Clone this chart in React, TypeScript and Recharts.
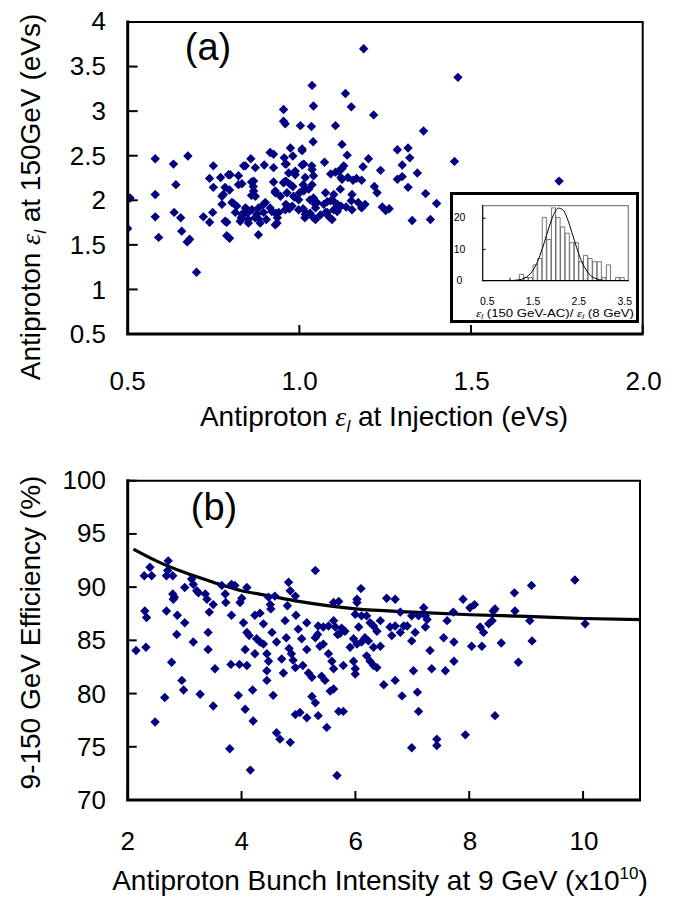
import React from "react";
import { Bar, ComposedChart, Line, Scatter, ScatterChart, XAxis, YAxis } from "recharts";

// Two stacked scatter panels, Excel-style: (a) emittance at 150 GeV vs injection
// with a histogram inset, (b) transfer efficiency vs bunch intensity with a fit line.

const FONT = '"Liberation Sans", Arial, Helvetica, sans-serif';
const NAVY = "#000080";

// panel (a): [emittance at injection, emittance at 150 GeV]
const panelAPoints: [number, number][] = [
  [0.507, 2.02], [0.5, 1.68], [0.58, 2.46], [0.58, 2.06], [0.58, 1.81], [0.59, 1.58],
  [0.633, 2.4], [0.64, 2.17], [0.635, 1.86], [0.654, 1.8], [0.657, 1.65], [0.675, 2.49],
  [0.673, 1.53], [0.68, 1.56], [0.7, 1.19], [0.72, 1.81], [0.738, 1.75], [0.747, 1.86],
  [0.749, 2.38], [0.738, 2.24], [0.749, 2.14], [0.77, 2.25], [0.774, 2.04], [0.774, 1.95],
  [0.788, 1.75], [0.788, 1.6], [0.796, 1.57], [0.783, 2.14], [0.796, 2.11], [0.793, 2.28],
  [0.808, 1.96], [0.813, 1.86], [0.822, 2.27], [0.832, 2.18], [0.837, 2.38], [0.83, 1.8],
  [0.84, 1.85], [0.85, 1.78], [0.845, 1.9], [0.858, 2.46], [0.86, 2.2], [0.865, 2.15],
  [0.86, 2.05], [0.871, 2.36], [0.88, 1.61], [0.87, 1.8], [0.88, 1.79], [0.897, 2.39],
  [0.895, 1.95], [0.903, 1.78], [0.914, 2.53], [0.924, 2.51], [0.924, 2.36], [0.924, 2.2],
  [0.929, 2.08], [0.93, 1.85], [0.935, 1.8], [0.934, 1.74], [0.953, 3.01], [0.953, 2.88],
  [0.958, 2.85], [0.955, 2.47], [0.961, 2.4], [0.955, 2.2], [0.96, 2.21], [0.96, 1.95],
  [0.965, 1.92], [0.97, 1.9], [0.973, 2.58], [0.98, 2.49], [0.987, 2.32], [0.985, 2.03],
  [1.002, 2.83], [1.007, 2.57], [1.007, 2.39], [1.01, 2.17], [1.015, 2.13], [1.012, 2.1],
  [1.01, 1.9], [1.02, 1.85], [1.015, 1.8], [1.036, 3.28], [1.04, 3.05], [1.034, 2.82],
  [1.039, 2.65], [1.035, 2.38], [1.04, 2.27], [1.04, 2.0], [1.045, 1.95], [1.03, 1.85],
  [1.04, 1.8], [1.186, 3.69], [1.46, 3.37], [1.133, 3.19], [1.15, 3.04], [1.215, 2.95],
  [1.104, 2.83], [1.36, 2.77], [1.123, 2.62], [1.284, 2.56], [1.315, 2.58], [1.138, 2.5],
  [1.2, 2.46], [1.32, 2.47], [1.45, 2.43], [1.072, 2.42], [1.184, 2.37], [1.235, 2.33],
  [1.298, 2.39], [1.342, 2.3], [1.09, 2.29], [1.104, 2.31], [1.123, 2.35], [1.12, 2.25],
  [1.14, 2.25], [1.155, 2.22], [1.165, 2.24], [1.18, 2.22], [1.284, 2.23], [1.298, 2.26],
  [1.217, 2.15], [1.225, 2.08], [1.315, 2.14], [1.366, 2.07], [1.398, 1.96], [1.152, 2.06],
  [1.0, 2.08], [1.04, 2.02], [1.08, 1.98], [1.1, 1.98], [1.12, 1.93], [1.15, 1.99],
  [1.17, 1.97], [1.19, 1.95], [1.08, 1.86], [1.06, 1.83], [1.085, 1.81], [1.135, 1.92],
  [1.152, 1.89], [1.18, 1.91], [1.24, 1.92], [1.26, 1.9], [1.25, 1.88], [1.327, 1.77],
  [1.38, 1.78], [1.754, 2.21], [1.007, 2.55], [0.842, 2.38], [0.958, 2.4], [1.012, 2.4],
  [1.036, 2.34], [1.113, 2.32], [1.128, 2.38], [0.798, 2.28], [0.968, 2.3], [0.987, 2.28],
  [1.016, 2.25], [0.866, 2.21], [0.953, 2.19], [0.973, 2.17], [1.026, 2.12], [1.036, 2.17],
  [1.075, 2.08], [1.099, 2.06], [1.118, 2.12], [1.123, 2.23], [0.778, 2.06], [0.822, 2.17],
  [0.866, 2.1], [0.871, 2.04], [0.929, 2.1], [0.944, 2.04], [0.963, 2.08], [0.982, 2.04],
  [0.997, 2.0], [1.03, 2.0], [1.05, 1.97], [1.07, 1.95], [1.09, 1.99], [1.11, 1.95],
  [0.803, 1.97], [0.817, 1.93], [0.842, 1.91], [0.861, 1.89], [0.88, 1.91], [0.9, 1.97],
  [0.914, 1.91], [0.832, 1.84], [0.851, 1.86], [0.876, 1.84], [0.895, 1.86], [0.919, 1.87],
  [0.939, 1.86], [0.958, 1.89], [0.978, 1.93], [0.997, 1.89], [1.016, 1.84], [1.046, 1.91],
  [1.075, 1.86], [1.099, 1.89], [1.113, 1.91], [0.783, 1.76], [0.827, 1.76], [0.851, 1.74],
  [0.885, 1.74], [0.929, 1.72], [1.046, 1.78], [0.98, 2.15], [1.094, 1.78], [1.109, 1.87],
];

// panel (b): [bunch intensity (x1e10), 9-150 GeV efficiency %]
const panelBPoints: [number, number][] = [
  [2.146, 84.0], [2.32, 84.3], [2.29, 91.0], [2.39, 91.8], [2.42, 91.0], [2.3, 87.7],
  [2.33, 87.1], [2.48, 77.3], [2.65, 79.6], [2.68, 91.0], [2.7, 91.5], [2.71, 92.4],
  [2.68, 87.7], [2.77, 82.9], [2.79, 89.3], [2.8, 88.8], [2.82, 89.0], [2.79, 91.0],
  [2.86, 85.5], [2.87, 87.3], [2.95, 81.2], [2.98, 80.3], [3.0, 89.9], [3.0, 86.6],
  [3.12, 90.7], [3.15, 90.2], [3.21, 89.6], [3.24, 89.4], [3.15, 84.8], [3.27, 79.9],
  [3.36, 89.3], [3.39, 88.8], [3.41, 85.7], [3.41, 84.1], [3.43, 87.6], [3.5, 88.3],
  [3.5, 78.8], [3.53, 82.3], [3.65, 90.1], [3.71, 89.3], [3.72, 88.5], [3.79, 74.8],
  [3.82, 87.3], [3.81, 82.7], [3.82, 90.2], [3.88, 90.1], [3.94, 79.8], [3.96, 82.7],
  [4.09, 82.6], [3.97, 88.5], [4.0, 88.9], [4.03, 86.6], [4.06, 84.1], [4.06, 78.5],
  [4.09, 89.9], [4.09, 85.7], [4.13, 85.4], [4.15, 72.8], [4.19, 80.3], [4.2, 77.4],
  [4.23, 87.3], [4.23, 83.7], [4.26, 85.1], [4.32, 84.8], [4.38, 84.6], [4.32, 87.5],
  [4.38, 86.5], [4.44, 83.7], [4.47, 83.0], [4.44, 82.1], [4.44, 81.2], [4.47, 89.0],
  [4.5, 88.3], [4.51, 87.9], [4.53, 85.7], [4.55, 79.8], [4.58, 89.1], [4.61, 84.8],
  [4.61, 76.3], [4.67, 75.7], [4.7, 83.2], [4.73, 81.9], [4.76, 86.8], [4.78, 85.2],
  [4.8, 88.2], [4.82, 90.4], [4.85, 89.6], [4.83, 84.2], [4.87, 83.7], [4.9, 83.1],
  [4.94, 82.4], [4.85, 75.4], [4.94, 89.1], [4.95, 87.3], [4.94, 78.0], [5.02, 78.2],
  [5.14, 77.7], [4.99, 86.0], [5.05, 85.1], [5.07, 82.6], [5.14, 86.6], [5.14, 84.1],
  [5.17, 81.9], [5.23, 81.5], [5.23, 79.7], [5.29, 79.1], [5.29, 91.5], [5.29, 85.2],
  [5.33, 85.5], [5.34, 86.3], [5.43, 86.2], [5.52, 86.3], [5.37, 84.4], [5.43, 84.6],
  [5.34, 77.9], [5.4, 81.6], [5.46, 81.2], [5.49, 76.8], [5.52, 83.7], [5.58, 83.0],
  [5.61, 82.3], [5.55, 80.2], [5.61, 80.4], [5.61, 88.5], [5.61, 86.8], [5.64, 86.2],
  [5.68, 85.5], [5.67, 72.3], [5.7, 78.3], [5.7, 88.6], [5.78, 78.3], [5.78, 82.6],
  [5.75, 86.1], [5.81, 85.8], [5.72, 85.6], [6.09, 89.8], [6.02, 88.8], [6.02, 88.5],
  [5.99, 87.4], [6.05, 86.2], [5.96, 85.1], [5.9, 84.3], [6.02, 84.6], [6.1, 84.8],
  [5.96, 83.0], [5.99, 82.3], [5.99, 81.8], [6.1, 87.25], [6.19, 87.25], [6.25, 86.6],
  [6.31, 86.3], [6.37, 85.8], [6.43, 86.8], [6.16, 85.2], [6.22, 84.9], [6.31, 84.3],
  [6.43, 84.4], [6.19, 83.5], [6.25, 83.0], [6.31, 82.6], [6.37, 82.4], [6.49, 80.8],
  [6.54, 88.9], [6.69, 88.8], [6.6, 86.2], [6.69, 86.3], [6.78, 85.7], [6.84, 86.3],
  [6.9, 86.3], [6.63, 85.4], [6.69, 81.2], [6.78, 87.6], [6.81, 79.75], [6.98, 74.9],
  [6.98, 84.9], [7.01, 82.1], [7.04, 85.7], [6.98, 87.25], [7.1, 87.25], [7.19, 88.0],
  [7.22, 87.25], [7.25, 86.9], [7.22, 86.2], [7.08, 80.1], [7.1, 78.3], [7.3, 84.0],
  [7.33, 82.3], [7.42, 75.7], [7.42, 75.1], [7.57, 82.1], [7.54, 85.2], [7.6, 86.8],
  [7.71, 87.6], [7.72, 84.8], [7.72, 83.0], [7.88, 88.8], [7.92, 76.1], [8.0, 88.0],
  [8.08, 88.3], [8.03, 84.4], [8.18, 86.2], [8.24, 85.7], [8.21, 84.4], [8.33, 86.5],
  [8.39, 86.8], [8.41, 87.7], [8.44, 87.9], [8.44, 77.9], [8.55, 84.7], [8.78, 89.4],
  [8.79, 87.7], [8.85, 82.9], [9.05, 86.8], [9.08, 90.1], [9.09, 84.9], [9.84, 90.6],
  [10.02, 86.5],
];

// fitted curve in (b)
const fitIntensity = [2.1, 2.5, 3, 3.5, 4, 4.5, 5, 5.5, 6, 7, 8, 9, 10, 11];
const fitEfficiency = [93.5, 92.4, 91.3, 90.4, 89.6, 89.1, 88.6, 88.2, 87.9, 87.6, 87.35, 87.2, 87.0, 86.9];

// inset histogram of the emittance ratio
const histBins = [1.25, 1.35, 1.45, 1.55, 1.65, 1.75, 1.85, 1.95, 2.05, 2.15, 2.25, 2.35, 2.45, 2.55, 2.65, 2.75, 2.85, 2.95, 3.05, 3.15, 3.25, 3.35, 3.45];
const histCounts = [2, 1, 1, 5, 7, 20, 13, 23, 20, 17, 15, 12, 12, 6, 8, 7, 6, 6, 1, 5, 0, 1, 1];
const gaussX = [1.05, 1.15, 1.25, 1.35, 1.45, 1.55, 1.65, 1.75, 1.85, 1.95, 2.05, 2.15, 2.25, 2.35, 2.45, 2.55, 2.65, 2.75, 2.85, 2.95, 3.05];
const gaussY = [0.05, 0.2, 0.45, 1.1, 2.4, 4.6, 8.0, 12.3, 17.0, 20.9, 22.9, 22.4, 19.5, 15.1, 10.5, 6.4, 3.6, 1.7, 0.8, 0.3, 0.1];

const aXTicks = [0.5, 1.0, 1.5, 2.0];
const aYTicks = [0.5, 1, 1.5, 2, 2.5, 3, 3.5, 4];
const bXTicks = [2, 4, 6, 8, 10];
const bYTicks = [70, 75, 80, 85, 90, 95, 100];
const histXTicks = [0.5, 1.5, 2.5, 3.5];
const histYTicks = [0, 10, 20];

const rowsA = panelAPoints.map(([x, y]) => ({ x, y }));
const rowsB = panelBPoints.map(([x, y]) => ({ x, y }));
const fitRows = fitIntensity.map((x, i) => ({ x, y: fitEfficiency[i] }));
const histRows = histBins.map((x, i) => ({ x, count: histCounts[i] }));
const gaussRows = gaussX.map((x, i) => ({ x, fit: gaussY[i] }));

// page-pixel plot boxes (must agree with the chart margins below)
const BOX_A = { l: 127.7, r: 642.7, t: 22, b: 334 };
const BOX_B = { l: 127.7, r: 640, t: 480.7, b: 800 };
const BOX_H = { l: 482.7, r: 628.3, t: 205.7, b: 280.7 };

const lin = (d0: number, d1: number, r0: number, r1: number) => (v: number) =>
  r0 + ((v - d0) / (d1 - d0)) * (r1 - r0);

const diamond = (r: number) => (p: any) => {
  const { cx, cy } = p;
  if (cx == null || cy == null) return <g />;
  return (
    <polygon
      points={`${cx},${cy - r} ${cx + r},${cy} ${cx},${cy + r} ${cx - r},${cy}`}
      fill={NAVY}
    />
  );
};

function XTick(p: any) {
  const { x, payload, labelY, fmt, size } = p;
  return (
    <text x={x} y={labelY} textAnchor="middle" fontFamily={FONT} fontSize={size} fill="#000">
      {fmt(payload.value)}
    </text>
  );
}

function YTick(p: any) {
  const { y, payload, labelX, fmt, size, anchor } = p;
  return (
    <text x={labelX} y={y} dy="0.36em" textAnchor={anchor} fontFamily={FONT} fontSize={size} fill="#000">
      {fmt(payload.value)}
    </text>
  );
}

// plot frame with inward tick stubs: left/bottom heavy, top/right lighter
function Frame(p: any) {
  const { box, heavy, light, lightColor, xDom, yDom, xTicks, yTicks, xLen, yLen, tickW } = p;
  const { l, r, t, b } = box;
  const sx = lin(xDom[0], xDom[1], l, r);
  const sy = lin(yDom[0], yDom[1], b, t);
  return (
    <g fill="none">
      <path d={`M${l},${t}H${r}V${b}`} stroke={lightColor} strokeWidth={light} />
      <path d={`M${l},${t - heavy / 2}V${b}H${r + light / 2}`} stroke="#000" strokeWidth={heavy} />
      {xTicks.map((v: number) => (
        <path key={`x${v}`} d={`M${sx(v)},${b}V${b - xLen}`} stroke="#000" strokeWidth={tickW} />
      ))}
      {yTicks.map((v: number) => (
        <path key={`y${v}`} d={`M${l},${sy(v)}H${l + yLen}`} stroke="#000" strokeWidth={tickW} />
      ))}
    </g>
  );
}

function PanelA() {
  return (
    <ScatterChart width={677} height={440} margin={{ top: BOX_A.t - 1, right: 677 - BOX_A.r - 1, bottom: 440 - BOX_A.b - 1, left: BOX_A.l - 1 }}>
      <XAxis
        type="number"
        dataKey="x"
        domain={[0.5, 2]}
        ticks={aXTicks}
        interval={0}
        height={1}
        allowDataOverflow
        axisLine={false}
        tickLine={false}
        tick={(p: any) => <XTick {...p} labelY={390} size={26} fmt={(v: number) => v.toFixed(1)} />}
      />
      <YAxis
        type="number"
        dataKey="y"
        domain={[0.5, 4]}
        ticks={aYTicks}
        interval={0}
        width={1}
        allowDataOverflow
        axisLine={false}
        tickLine={false}
        tick={(p: any) => <YTick {...p} labelX={106} size={26} anchor="end" fmt={(v: number) => String(v)} />}
      />
      <Scatter data={rowsA} fill={NAVY} shape={diamond(4.7)} isAnimationActive={false} />
    </ScatterChart>
  );
}

function Inset() {
  // chart origin sits at page (450, 192)
  return (
    <ComposedChart
      width={189}
      height={131}
      data={histRows}
      margin={{ top: BOX_H.t - 192 - 1, right: 639 - BOX_H.r - 1, bottom: 323 - BOX_H.b - 1, left: BOX_H.l - 450 - 1 }}
      barGap={0}
      barCategoryGap={0}
    >
      <XAxis
        type="number"
        dataKey="x"
        domain={[0.4, 3.6]}
        ticks={histXTicks}
        interval={0}
        height={1}
        allowDataOverflow
        axisLine={false}
        tickLine={false}
        tick={(p: any) => <XTick {...p} labelY={113} size={10.5} fmt={(v: number) => v.toFixed(1)} />}
      />
      <YAxis
        type="number"
        domain={[0, 24]}
        ticks={histYTicks}
        interval={0}
        width={1}
        allowDataOverflow
        axisLine={false}
        tickLine={false}
        tick={(p: any) => <YTick {...p} labelX={9.5} size={10.5} anchor="middle" fmt={(v: number) => String(v)} />}
      />
      <Bar dataKey="count" barSize={4.6} fill="#fff" stroke="#555" strokeWidth={0.8} isAnimationActive={false} />
      <Line data={gaussRows} dataKey="fit" type="monotone" stroke="#000" strokeWidth={1} dot={false} isAnimationActive={false} />
    </ComposedChart>
  );
}

function PanelB() {
  // chart origin sits at page (0, 440)
  return (
    <ComposedChart width={677} height={457} margin={{ top: BOX_B.t - 440 - 1, right: 677 - BOX_B.r - 1, bottom: 897 - BOX_B.b - 1, left: BOX_B.l - 1 }}>
      <XAxis
        type="number"
        dataKey="x"
        domain={[2, 11]}
        ticks={bXTicks}
        interval={0}
        height={1}
        allowDataOverflow
        axisLine={false}
        tickLine={false}
        tick={(p: any) => <XTick {...p} labelY={410} size={26} fmt={(v: number) => String(v)} />}
      />
      <YAxis
        type="number"
        dataKey="y"
        domain={[70, 100]}
        ticks={bYTicks}
        interval={0}
        width={1}
        allowDataOverflow
        axisLine={false}
        tickLine={false}
        tick={(p: any) => <YTick {...p} labelX={106} size={26} anchor="end" fmt={(v: number) => String(v)} />}
      />
      <Scatter data={rowsB} dataKey="y" fill={NAVY} shape={diamond(4.7)} isAnimationActive={false} />
      <Line data={fitRows} dataKey="y" type="monotone" stroke="#000" strokeWidth={3.2} dot={false} isAnimationActive={false} />
    </ComposedChart>
  );
}

export default function App() {
  const sub = { fontSize: 17, fontStyle: "italic" as const };
  return (
    <div style={{ position: "absolute", left: 0, top: 0, width: 677, height: 897, background: "#fff", fontFamily: FONT }}>
      <div style={{ position: "absolute", left: 0, top: 0 }}>
        <PanelA />
      </div>
      <div
        style={{
          position: "absolute",
          left: 450,
          top: 192,
          width: 189,
          height: 131,
          border: "3px solid #000",
          boxSizing: "border-box",
          background: "#fff",
        }}
      />
      <div style={{ position: "absolute", left: 450, top: 192 }}>
        <Inset />
      </div>
      <div style={{ position: "absolute", left: 0, top: 440 }}>
        <PanelB />
      </div>
      <svg width={677} height={897} style={{ position: "absolute", left: 0, top: 0, pointerEvents: "none" }}>
        <Frame box={BOX_A} heavy={3} light={2} lightColor="#000" xDom={[0.5, 2]} yDom={[0.5, 4]} xTicks={aXTicks} yTicks={aYTicks} xLen={9} yLen={10} tickW={2} />
        <Frame box={BOX_B} heavy={3} light={2} lightColor="#000" xDom={[2, 11]} yDom={[70, 100]} xTicks={bXTicks} yTicks={bYTicks} xLen={9} yLen={9} tickW={2} />
        <Frame box={BOX_H} heavy={1.2} light={1.2} lightColor="#808080" xDom={[0.4, 3.6]} yDom={[0, 24]} xTicks={[1]} yTicks={histYTicks} xLen={3} yLen={3} tickW={1} />
        <g fontFamily={FONT} fill="#000">
          <text x={208} y={60} fontSize={38} textAnchor="middle">(a)</text>
          <text x={214} y={520} fontSize={38} textAnchor="middle">(b)</text>
          <text x={384} y={426} fontSize={28} textAnchor="middle">
            Antiproton{" "}
            <tspan fontFamily='"Liberation Serif", serif' fontStyle="italic">ε</tspan>
            <tspan {...sub} dy={6}>l</tspan>
            <tspan dy={-6}> at Injection (eVs)</tspan>
          </text>
          <text x={40} y={197} fontSize={28} textAnchor="middle" transform="rotate(-90 40 197)">
            Antiproton{" "}
            <tspan fontFamily='"Liberation Serif", serif' fontStyle="italic">ε</tspan>
            <tspan {...sub} dy={6}>l</tspan>
            <tspan dy={-6}> at 150GeV (eVs)</tspan>
          </text>
          <text x={380} y={890} fontSize={28} textAnchor="middle">
            Antiproton Bunch Intensity at 9 GeV (x10
            <tspan fontSize={17} dy={-11}>10</tspan>
            <tspan dy={11}>)</tspan>
          </text>
          <text x={40} y={632.5} fontSize={28} textAnchor="middle" transform="rotate(-90 40 632.5)">
            9-150 GeV Efficiency (%)
          </text>
          <text x={476} y={316.5} fontSize={11} textLength={158} lengthAdjust="spacingAndGlyphs">
            <tspan fontFamily='"Liberation Serif", serif' fontStyle="italic">ε</tspan>
            <tspan fontSize={7} dy={2} fontStyle="italic">l</tspan>
            <tspan dy={-2}> (150 GeV-AC)/ </tspan>
            <tspan fontFamily='"Liberation Serif", serif' fontStyle="italic">ε</tspan>
            <tspan fontSize={7} dy={2} fontStyle="italic">l</tspan>
            <tspan dy={-2}> (8 GeV)</tspan>
          </text>
        </g>
      </svg>
    </div>
  );
}
